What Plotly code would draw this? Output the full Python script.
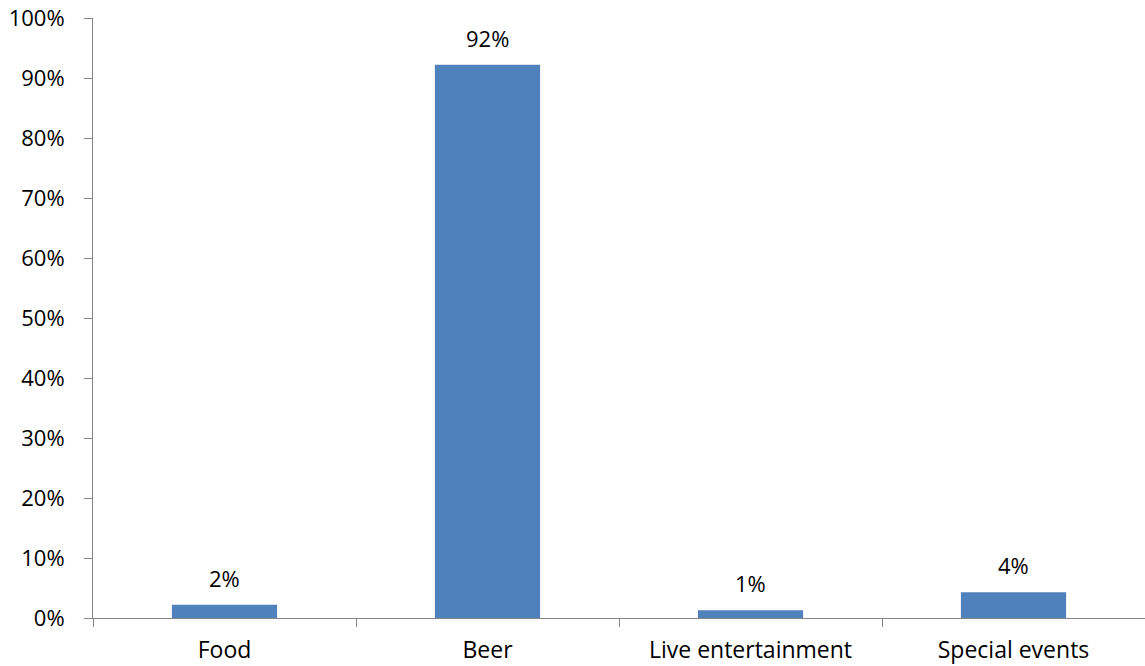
import plotly.graph_objects as go

categories = ["Food", "Beer", "Live entertainment", "Special events"]
values = [0.022, 0.922, 0.013, 0.043]
labels = ["2%", "92%", "1%", "4%"]
tick_vals = [i / 10 for i in range(11)]
tick_text = [f"{i*10}%" for i in range(11)]

FONT = "Open Sans"

fig = go.Figure()
fig.add_trace(go.Bar(
    x=categories, y=values, marker=dict(color="#4F81BD", line=dict(width=0)),
    width=0.4, hoverinfo="skip",
))
for c, v, t in zip(categories, values, labels):
    fig.add_annotation(x=c, y=v, text=t, showarrow=False, yanchor="bottom",
                       yshift=10, font=dict(family=FONT, size=22, color="#000000"))

fig.update_layout(
    width=1145, height=666,
    margin=dict(l=93, r=0, t=18, b=48, autoexpand=False),
    paper_bgcolor="white", plot_bgcolor="white",
    showlegend=False,
    font=dict(family=FONT, size=22, color="#000000"),
)
fig.update_xaxes(
    showline=True, linecolor="#868686", linewidth=1,
    ticks="outside", tickson="boundaries", ticklen=8, tickcolor="#868686",
    showgrid=False, zeroline=False, ticklabelstandoff=11, automargin=False,
    tickfont=dict(size=23), ticklabeloverflow="allow",
)
fig.update_yaxes(
    range=[0, 1], tickvals=tick_vals, ticktext=tick_text,
    showline=True, linecolor="#868686", linewidth=1,
    ticks="outside", ticklen=8, tickcolor="#868686",
    showgrid=False, zeroline=False, ticklabelstandoff=15, automargin=False,
    ticklabeloverflow="allow",
)
fig.write_html(
    "out.html",
    config={"displayModeBar": False},
    post_script="document.body.style.margin='0';document.body.style.overflow='hidden';",
)
